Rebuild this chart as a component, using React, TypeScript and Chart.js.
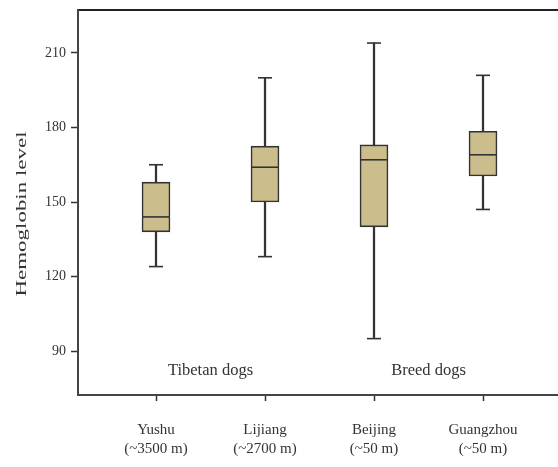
import React, { useEffect, useRef } from 'react';
import { Chart, registerables } from 'chart.js';

Chart.register(...registerables);

const categories: string[][] = [
  ['Yushu', '(~3500 m)'],
  ['Lijiang', '(~2700 m)'],
  ['Beijing', '(~50 m)'],
  ['Guangzhou', '(~50 m)'],
];
const positions = [1, 2, 3, 4];
const whiskerLow = [124, 128, 95, 147];
const q1 = [138, 150, 140, 160.5];
const medians = [144, 164, 167, 169];
const q3 = [158, 172.5, 173, 178.5];
const whiskerHigh = [165, 200, 214, 201];
const yTicks = [90, 120, 150, 180, 210];
const groupLabels = ['Tibetan dogs', 'Breed dogs'];
const groupPositions = [1.5, 3.5];
const groupLabelValue = 82;
const yTitle = 'Hemoglobin level';

const FONT = "'Liberation Serif', 'Times New Roman', serif";
const INK = '#333333';
const BOX_FILL = '#cbbe8c';

const zeroPadding = (s: any) => {
  s.paddingTop = 0;
  s.paddingBottom = 0;
  s.paddingLeft = 0;
  s.paddingRight = 0;
};

const annotations = {
  id: 'annotations',
  afterDraw(chart: any) {
    const { ctx, scales } = chart;
    const x = scales.x;
    const y = scales.y;
    ctx.save();
    ctx.fillStyle = INK;
    ctx.font = `16.5px ${FONT}`;
    ctx.textAlign = 'center';
    ctx.textBaseline = 'middle';
    groupLabels.forEach((t, i) => {
      ctx.fillText(t, x.getPixelForValue(groupPositions[i]), y.getPixelForValue(groupLabelValue));
    });
    ctx.restore();

    ctx.save();
    ctx.fillStyle = INK;
    ctx.font = `14px ${FONT}`;
    ctx.textAlign = 'center';
    ctx.textBaseline = 'middle';
    ctx.translate(22, 214);
    ctx.rotate(-Math.PI / 2);
    ctx.scale(1.64, 1);
    ctx.fillText(yTitle, 0, 0);
    ctx.restore();
  },
};

export default function App() {
  const ref = useRef<HTMLCanvasElement | null>(null);

  useEffect(() => {
    document.body.style.margin = '0';
    document.body.style.overflow = 'hidden';
    const canvas = ref.current;
    if (!canvas) return;

    const chart = new Chart(canvas, {
      type: 'bar',
      data: {
        datasets: [
          {
            type: 'bar',
            label: 'whisker',
            data: positions.map((p, i) => ({ x: p, y: [whiskerLow[i], whiskerHigh[i]] })) as any,
            backgroundColor: INK,
            borderWidth: 0,
            barThickness: 1.6,
            grouped: false,
            order: 3,
          } as any,
          {
            type: 'bar',
            label: 'box',
            data: positions.map((p, i) => ({ x: p, y: [q1[i], q3[i]] })) as any,
            backgroundColor: BOX_FILL,
            borderColor: INK,
            borderWidth: 1.6,
            borderSkipped: false,
            barThickness: 28,
            grouped: false,
            order: 2,
          } as any,
          {
            type: 'line',
            label: 'median',
            data: positions.map((p, i) => ({ x: p, y: medians[i] })),
            showLine: false,
            pointStyle: 'line',
            pointRadius: 13,
            pointBorderWidth: 1.6,
            pointBorderColor: INK,
            pointBackgroundColor: INK,
            order: 1,
          } as any,
          {
            type: 'line',
            label: 'caps',
            data: positions.flatMap((p, i) => [
              { x: p, y: whiskerLow[i] },
              { x: p, y: whiskerHigh[i] },
            ]),
            showLine: false,
            pointStyle: 'line',
            pointRadius: 7,
            pointBorderWidth: 1.6,
            pointBorderColor: INK,
            pointBackgroundColor: INK,
            order: 1,
          } as any,
        ],
      },
      options: {
        responsive: false,
        animation: false,
        events: [],
        layout: { padding: 0, autoPadding: false },
        plugins: {
          legend: { display: false },
          tooltip: { enabled: false },
          title: { display: false },
        },
        scales: {
          x: {
            type: 'linear',
            position: 'bottom',
            min: 0.2844,
            max: 4.688,
            offset: false,
            afterBuildTicks: (s: any) => {
              s.ticks = positions.map((v) => ({ value: v }));
            },
            afterFit: (s: any) => {
              s.height = 72;
              zeroPadding(s);
            },
            grid: {
              display: true,
              drawOnChartArea: false,
              drawTicks: true,
              tickLength: 6,
              tickWidth: 1.5,
              color: INK,
              offset: false,
            },
            border: { display: true, color: '#444444', width: 2 },
            ticks: {
              autoSkip: false,
              maxRotation: 0,
              padding: 19,
              color: INK,
              font: { family: FONT, size: 15, lineHeight: 1.3 },
              callback: (value: any) => {
                const i = positions.indexOf(Number(value));
                return i >= 0 ? categories[i] : '';
              },
            },
          },
          x2: {
            type: 'linear',
            position: 'top',
            min: 0.2844,
            max: 4.688,
            offset: false,
            afterFit: (s: any) => {
              s.height = 10;
              zeroPadding(s);
            },
            grid: { display: false },
            border: { display: true, color: '#222222', width: 2 },
            ticks: { display: false },
          },
          y: {
            type: 'linear',
            min: 72.3,
            max: 227.3,
            afterBuildTicks: (s: any) => {
              s.ticks = yTicks.map((v) => ({ value: v }));
            },
            afterFit: (s: any) => {
              s.width = 78;
              zeroPadding(s);
            },
            grid: {
              display: true,
              drawOnChartArea: false,
              drawTicks: true,
              tickLength: 7,
              tickWidth: 1.5,
              color: INK,
            },
            border: { display: true, color: '#444444', width: 2 },
            ticks: {
              padding: 5,
              color: INK,
              font: { family: FONT, size: 14 },
            },
          },
        },
      } as any,
      plugins: [annotations],
    });

    return () => {
      chart.destroy();
    };
  }, []);

  return (
    <div style={{ width: 558, height: 467, background: '#ffffff', overflow: 'hidden' }}>
      <canvas ref={ref} width={558} height={467} style={{ display: 'block' }} />
    </div>
  );
}
